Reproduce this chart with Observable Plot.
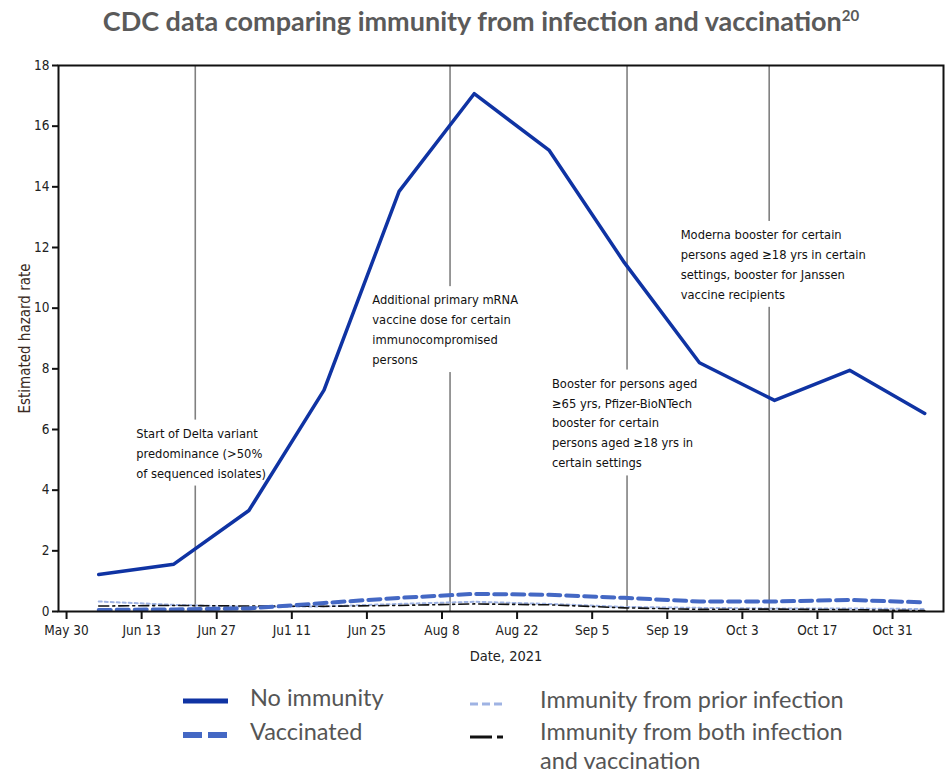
<!DOCTYPE html>
<html>
<head>
<meta charset="utf-8">
<script src="https://cdn.jsdelivr.net/npm/d3@7"></script>
<script src="https://cdn.jsdelivr.net/npm/@observablehq/plot@0.6"></script>
<style>
  body { margin: 0; background: #fff; width: 949px; height: 773px; position: relative; overflow: hidden; }
  #title { position: absolute; left: 0; top: 4px; width: 962px; text-align: center; font-family: Lato, sans-serif; font-weight: bold; font-size: 27px; color: #5a5a5a; white-space: nowrap; }
  #title sup { font-size: 15px; }
  #chart { position: absolute; left: 0; top: 50px; }
  .leg { position: absolute; font-family: Lato, sans-serif; font-size: 23.5px; color: #555; line-height: 24px; white-space: nowrap; }
  .sw { position: absolute; }
</style>
</head>
<body>
<div id="title">CDC data comparing immunity from infection and vaccination<sup>20</sup></div>
<div id="chart"></div>
<div id="legend"></div>
<script>
// ---- data ----
const dates = ["2021-06-05","2021-06-19","2021-07-03","2021-07-17","2021-07-31","2021-08-14","2021-08-28","2021-09-11","2021-09-25","2021-10-09","2021-10-23","2021-11-06"];
const noImmunity = [1.22, 1.56, 3.33, 7.30, 13.85, 17.07, 15.20, 11.50, 8.20, 6.96, 7.95, 6.53];
const vaccinated = [0.05, 0.07, 0.10, 0.28, 0.45, 0.58, 0.55, 0.45, 0.33, 0.33, 0.38, 0.30];
const priorInfection = [0.33, 0.22, 0.15, 0.17, 0.25, 0.32, 0.25, 0.15, 0.12, 0.10, 0.10, 0.08];
const bothInfVacc = [0.18, 0.20, 0.18, 0.17, 0.20, 0.25, 0.22, 0.12, 0.07, 0.08, 0.06, 0.03];
const tickDates = ["2021-05-30","2021-06-13","2021-06-27","2021-07-11","2021-07-25","2021-08-08","2021-08-22","2021-09-05","2021-09-19","2021-10-03","2021-10-17","2021-10-31"];
const tickLabels = ["May 30","Jun 13","Jun 27","Ju1 11","Jun 25","Aug 8","Aug 22","Sep 5","Sep 19","Oct 3","Oct 17","Oct 31"];
const yTicks = [0, 2, 4, 6, 8, 10, 12, 14, 16, 18];
const xTitle = "Date, 2021";
const yTitle = "Estimated hazard rate";
const eventDates = ["2021-06-23T00:00","2021-08-09T12:00","2021-09-11T12:00","2021-10-08T00:00"];
const noteDates = ["2021-06-12T00:00","2021-07-26T00:00","2021-08-28T12:00","2021-09-21T12:00"];
const noteY = [6.2, 10.6, 7.85, 12.75];
const noteTexts = [
  "Start of Delta variant\npredominance (>50%\nof sequenced isolates)",
  "Additional primary mRNA\nvaccine dose for certain\nimmunocompromised\npersons",
  "Booster for persons aged\n≥65 yrs, Pfizer-BioNTech\nbooster for certain\npersons aged ≥18 yrs in\ncertain settings",
  "Moderna booster for certain\npersons aged ≥18 yrs in certain\nsettings, booster for Janssen\nvaccine recipients"
];
const seriesNames = ["No immunity", "Vaccinated", "Immunity from prior infection", "Immunity from both infection\nand vaccination"];

const P = d => new Date((d.length === 10 ? d + "T00:00" : d) + ":00Z");
const mk = vals => dates.map((d, i) => ({date: P(d), value: vals[i]}));
const notes = noteTexts.map((t, i) => ({date: P(noteDates[i]), y: noteY[i], text: t}));
const font = "'Liberation Sans Narrow', 'DejaVu Sans Condensed', sans-serif";

const chart = Plot.plot({
  width: 949,
  height: 625,
  marginLeft: 58,
  marginRight: 6,
  marginTop: 15,
  marginBottom: 64,
  style: {fontFamily: font, fontSize: "13px", color: "#222", background: "white"},
  x: {type: "utc", domain: [new Date(Date.UTC(2021,4,28,12)), new Date(Date.UTC(2021,10,9,12))]},
  y: {domain: [0, 18]},
  marks: [
    Plot.ruleX(eventDates.map(P), {y1: 0, y2: 18, stroke: "#808080", strokeWidth: 1.6}),
    Plot.text(notes, {x: "date", y: "y", text: "text", textAnchor: "start", lineAnchor: "top", lineHeight: 1.56, fontSize: 12.8, fill: "#111", fontFamily: font}),
    Plot.line(mk(priorInfection), {x: "date", y: "value", stroke: "#9fb3e3", strokeWidth: 2, strokeDasharray: "3,3"}),
    Plot.line(mk(bothInfVacc), {x: "date", y: "value", stroke: "#111", strokeWidth: 1.6, strokeDasharray: "10,4,2,4"}),
    Plot.line(mk(vaccinated), {x: "date", y: "value", stroke: "#4468c4", strokeWidth: 4, strokeDasharray: "12,6"}),
    Plot.line(mk(noImmunity), {x: "date", y: "value", stroke: "#0f33a3", strokeWidth: 3.5}),
    Plot.frame({stroke: "#111", strokeWidth: 2}),
    Plot.axisX({ticks: tickDates.map(P), tickFormat: (d, i) => tickLabels[i], tickSize: 8, tickPadding: 6, strokeWidth: 2, stroke: "#111", fontSize: 13.5, label: null}),
    Plot.axisY({ticks: yTicks, tickSize: 6, tickPadding: 3, strokeWidth: 2, stroke: "#111", fontSize: 13.5, label: null}),
    Plot.text([xTitle], {frameAnchor: "bottom", text: d => d, dy: 49, dx: 5, fontSize: 14.5, fill: "#222", fontFamily: font}),
    Plot.text([yTitle], {frameAnchor: "left", text: d => d, rotate: -90, textAnchor: "middle", dx: -33, fontSize: 15, fill: "#3a2a22", fontFamily: font})
  ]
});
document.getElementById("chart").appendChild(chart);

// white boxes behind annotation texts (sized from the rendered text)
const svgNS = "http://www.w3.org/2000/svg";
Array.from(chart.querySelectorAll("text")).filter(t => t.querySelectorAll("tspan").length >= 3).forEach(t => {
  const b = t.getBBox();
  const r = document.createElementNS(svgNS, "rect");
  r.setAttribute("x", b.x - 4); r.setAttribute("y", b.y - 6);
  r.setAttribute("width", b.width + 8); r.setAttribute("height", b.height + 11);
  r.setAttribute("fill", "white");
  if (t.getAttribute("transform")) r.setAttribute("transform", t.getAttribute("transform"));
  t.parentNode.insertBefore(r, t);
});

// ---- legend ----
const leg = document.getElementById("legend");
const swatches = [
  {x: 183, y: 697, w: 45, svg: '<line x1="0" y1="5" x2="45" y2="5" stroke="#0f33a3" stroke-width="5"/>'},
  {x: 183, y: 731, w: 45, svg: '<line x1="0" y1="5" x2="45" y2="5" stroke="#4468c4" stroke-width="6" stroke-dasharray="19,6"/>'},
  {x: 470, y: 700, w: 36, svg: '<line x1="0" y1="5" x2="36" y2="5" stroke="#9fb3e3" stroke-width="3" stroke-dasharray="8,4"/>'},
  {x: 470, y: 733, w: 36, svg: '<line x1="0" y1="5" x2="22" y2="5" stroke="#111" stroke-width="3"/><line x1="27" y1="5" x2="33" y2="5" stroke="#111" stroke-width="3"/>'}
];
const textPos = [{x: 250, ys: [697]}, {x: 250, ys: [731]}, {x: 540, ys: [699]}, {x: 540, ys: [731, 760]}];
seriesNames.forEach((name, i) => {
  const s = swatches[i];
  const sw = document.createElement("div");
  sw.className = "sw";
  sw.style.left = s.x + "px"; sw.style.top = (s.y - 5) + "px";
  sw.innerHTML = `<svg width="${s.w}" height="10">${s.svg}</svg>`;
  leg.appendChild(sw);
  name.split("\n").forEach((line, j) => {
    const t = document.createElement("div");
    t.className = "leg";
    t.style.left = textPos[i].x + "px"; t.style.top = (textPos[i].ys[j] - 12) + "px";
    t.textContent = line;
    leg.appendChild(t);
  });
});
</script>
</body>
</html>
